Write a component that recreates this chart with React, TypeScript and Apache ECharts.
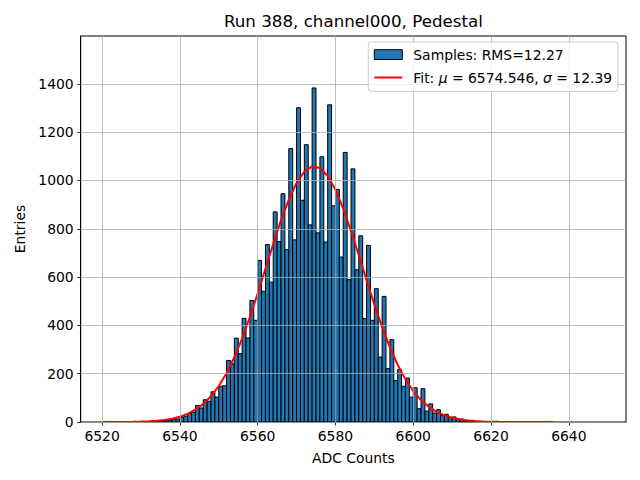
import React, { useEffect, useRef } from "react";
import * as echarts from "echarts";

// Histogram bins (left edge, ADC counts) and entries
const binStarts = [
  6530, 6531, 6532, 6533, 6534, 6535, 6536, 6537, 6538, 6539,
  6540, 6541, 6542, 6543, 6544, 6545, 6546, 6547, 6548, 6549,
  6550, 6551, 6552, 6553, 6554, 6555, 6556, 6557, 6558, 6559,
  6560, 6561, 6562, 6563, 6564, 6565, 6566, 6567, 6568, 6569,
  6570, 6571, 6572, 6573, 6574, 6575, 6576, 6577, 6578, 6579,
  6580, 6581, 6582, 6583, 6584, 6585, 6586, 6587, 6588, 6589,
  6590, 6591, 6592, 6593, 6594, 6595, 6596, 6597, 6598, 6599,
  6600, 6601, 6602, 6603, 6604, 6605, 6606, 6607, 6608, 6609,
  6610, 6611, 6612, 6613, 6614, 6615,
];
const binCounts = [
  1, 1, 2, 2, 4, 4, 6, 7, 11, 12,
  20, 24, 35, 40, 68, 58, 92, 86, 125, 103,
  148, 150, 255, 241, 347, 283, 429, 348, 503, 421,
  669, 541, 735, 579, 870, 747, 945, 713, 1132, 754,
  1301, 918, 1148, 816, 1383, 783, 1098, 745, 1313, 895,
  963, 683, 1116, 589, 1048, 630, 771, 428, 731, 421,
  552, 269, 520, 221, 341, 172, 218, 148, 182, 103,
  142, 55, 138, 45, 75, 37, 51, 28, 32, 18,
  21, 11, 12, 7, 5, 3,
];
const BIN_WIDTH = 1;

// Fit curve points
const fitX = [
  6520, 6522, 6524, 6526, 6528, 6530, 6532, 6534, 6536, 6538,
  6540, 6542, 6544, 6546, 6548, 6550, 6552, 6554, 6556, 6558,
  6560, 6562, 6564, 6566, 6568, 6570, 6572, 6574, 6576, 6578,
  6580, 6582, 6584, 6586, 6588, 6590, 6592, 6594, 6596, 6598,
  6600, 6602, 6604, 6606, 6608, 6610, 6612, 6614, 6616, 6618,
  6620, 6622, 6624, 6626, 6628, 6630, 6632, 6634, 6636,
];
const fitY = [
  0.1, 0.1, 0.3, 0.5, 0.9, 1.7, 2.9, 5.0, 8.4, 13.7,
  21.7, 33.6, 50.7, 74.5, 106.7, 148.8, 202.2, 267.8, 345.4, 434.2,
  531.6, 634.2, 737.2, 834.8, 921.0, 990.1, 1036.9, 1058.0, 1051.7, 1018.7,
  961.2, 883.7, 791.5, 690.8, 587.3, 486.5, 392.7, 308.7, 236.5, 176.5,
  128.4, 90.9, 62.8, 42.2, 27.7, 17.7, 11.0, 6.7, 3.9, 2.3,
  1.3, 0.7, 0.4, 0.2, 0.1, 0.05, 0.02, 0.01, 0.0,
];

const xTicks = [6520, 6540, 6560, 6580, 6600, 6620, 6640];
const yTicks = [0, 200, 400, 600, 800, 1000, 1200, 1400];

const titleText = "Run 388, channel000, Pedestal";
const histLabel = "Samples: RMS=12.27";
const FONT = "DejaVu Sans";

export default function App() {
  const ref = useRef<HTMLDivElement>(null);

  useEffect(() => {
    if (!ref.current) return;
    const chart = echarts.init(ref.current, undefined, { renderer: "svg" });

    const histData = binStarts.map((x, i) => [x, binCounts[i]]);
    const fitData = fitX.map((x, i) => [x, fitY[i]]);

    const gridLineStyle = { color: "#b0b0b0", width: 0.8, type: "solid" as const };
    const plain = (v: number) => String(v);

    const option: any = {
      animation: false,
      backgroundColor: "#ffffff",
      textStyle: { fontFamily: FONT },
      grid: {
        left: 80.7,
        right: 14,
        top: 36,
        bottom: 58,
        show: true,
        borderColor: "#000",
        borderWidth: 1,
        backgroundColor: "transparent",
        containLabel: false,
      },
      xAxis: {
        type: "value",
        min: 6514.5,
        max: 6654.7,
        axisLine: { show: true, onZero: false, lineStyle: { color: "#000", width: 1 } },
        axisTick: {
          show: true,
          length: 3.5,
          inside: false,
          customValues: xTicks,
          lineStyle: { color: "#000", width: 0.8 },
        },
        axisLabel: {
          show: true,
          customValues: xTicks,
          formatter: plain,
          margin: 7,
          color: "#000",
          fontFamily: FONT,
          fontSize: 13.9,
          showMinLabel: true,
          showMaxLabel: true,
        },
        splitLine: { show: false },
        name: "ADC Counts",
        nameLocation: "middle",
        nameGap: 29,
        nameTextStyle: { color: "#000", fontFamily: FONT, fontSize: 13.9 },
      },
      yAxis: {
        type: "value",
        min: 0,
        max: 1598,
        axisLine: { show: true, onZero: false, lineStyle: { color: "#000", width: 1 } },
        axisTick: {
          show: true,
          length: 3.5,
          inside: false,
          customValues: yTicks,
          lineStyle: { color: "#000", width: 0.8 },
        },
        axisLabel: {
          show: true,
          customValues: yTicks,
          formatter: plain,
          margin: 7,
          color: "#000",
          fontFamily: FONT,
          fontSize: 13.9,
        },
        splitLine: { show: false },
        name: "Entries",
        nameLocation: "middle",
        nameGap: 52,
        nameRotate: 90,
        nameTextStyle: { color: "#000", fontFamily: FONT, fontSize: 13.9 },
      },
      series: [
        {
          type: "custom",
          name: histLabel,
          z: 2,
          silent: true,
          encode: { x: 0, y: 1 },
          data: histData,
          renderItem: (params: any, api: any) => {
            const x = api.value(0);
            const y = api.value(1);
            const p0 = api.coord([x, y]);
            const p1 = api.coord([x + BIN_WIDTH, 0]);
            return {
              type: "rect",
              shape: { x: p0[0], y: p0[1], width: p1[0] - p0[0], height: p1[1] - p0[1] },
              style: { fill: "#1f77b4", stroke: "#000", lineWidth: 1 },
            };
          },
        },
        {
          type: "scatter",
          name: "grid",
          z: 3,
          silent: true,
          data: [],
          markLine: {
            silent: true,
            symbol: ["none", "none"],
            label: { show: false },
            lineStyle: gridLineStyle,
            animation: false,
            data: [
              ...xTicks.map((v) => ({ xAxis: v })),
              ...yTicks.map((v) => ({ yAxis: v })),
            ],
          },
        },
        {
          type: "line",
          name: "fit",
          z: 4,
          silent: true,
          showSymbol: false,
          symbol: "none",
          data: fitData,
          lineStyle: { color: "#ff0000", width: 2 },
        },
      ],
      graphic: [
        {
          type: "text",
          z: 100,
          x: 353.4,
          y: 21,
          style: {
            text: titleText,
            fill: "#000",
            font: `16.7px "${FONT}"`,
            textAlign: "center",
            textVerticalAlign: "middle",
          },
        },
        {
          type: "rect",
          z: 100,
          shape: { x: 368.3, y: 42, width: 249.7, height: 49.3, r: 3 },
          style: { fill: "rgba(255,255,255,0.8)", stroke: "#cccccc", lineWidth: 1 },
        },
        {
          type: "rect",
          z: 101,
          shape: { x: 374.3, y: 49.7, width: 28, height: 9.8 },
          style: { fill: "#1f77b4", stroke: "#000", lineWidth: 1 },
        },
        {
          type: "line",
          z: 101,
          shape: { x1: 374.3, y1: 77.5, x2: 402.3, y2: 77.5 },
          style: { stroke: "#ff0000", lineWidth: 2 },
        },
        {
          type: "text",
          z: 101,
          x: 413.3,
          y: 54.5,
          style: {
            text: histLabel,
            fill: "#000",
            font: `13.9px "${FONT}"`,
            textAlign: "left",
            textVerticalAlign: "middle",
          },
        },
        {
          type: "text",
          z: 101,
          x: 413.3,
          y: 78,
          style: {
            text: "Fit: {i|μ} = 6574.546, {i|σ} = 12.39",
            fill: "#000",
            font: `13.9px "${FONT}"`,
            fontFamily: FONT,
            fontSize: 13.9,
            textAlign: "left",
            textVerticalAlign: "middle",
            rich: {
              i: { fontStyle: "italic", fontFamily: FONT, fontSize: 13.9, fill: "#000" },
            },
          },
        },
      ],
    };

    chart.setOption(option);
    return () => {
      chart.dispose();
    };
  }, []);

  return (
    <div
      ref={ref}
      style={{ position: "absolute", left: 0, top: 0, width: 640, height: 480 }}
    />
  );
}
